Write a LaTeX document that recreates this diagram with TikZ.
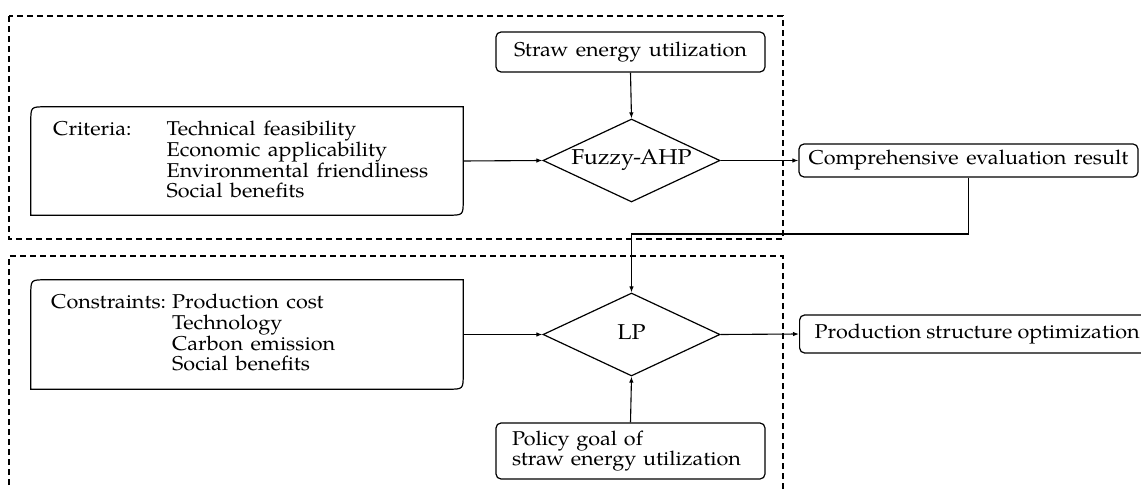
\documentclass[tikz,border=0pt]{standalone}
\usepackage{fontspec}
\setmainfont{TeX Gyre Pagella}[WordSpace=1.4,FakeStretch=1.08]
\usetikzlibrary{shapes.geometric,arrows.meta,calc}
\newcommand{\txtfont}{\fontsize{20}{20.3}\selectfont}
\newcommand{\bigtxtfont}{\fontsize{21.5}{24}\selectfont}
\newcommand{\tighttxtfont}{\fontsize{20}{20.3}\selectfont\spaceskip=5pt plus 1pt minus 1pt\relax}
\begin{document}
\begin{tikzpicture}[x=1pt,y=-1pt,
  every node/.style={font=\txtfont},
  rbox/.style={draw, rounded corners=5pt, line width=1.2pt, inner sep=0pt},
  dia/.style={draw, diamond, shape aspect=2.13, line width=1.2pt, inner sep=0pt, text height=11pt, text depth=2pt, minimum width=177pt, minimum height=83pt, font=\bigtxtfont},
  plain/.style={draw=none, inner sep=0pt, minimum width=432pt},
  outline/.style={line width=1.2pt},
  conn/.style={line width=1.1pt, -{Latex[length=6pt,width=4.5pt]}},
  dashframe/.style={dash pattern=on 6pt off 4pt, line width=1.2pt}]
\useasboundingbox (0,0) rectangle (1141,489);
\clip (0,0) rectangle (1141,489);
% frames
\draw[dashframe] (9,16) rectangle (783,239);
\draw[dashframe] (9,495) -- (9,256) -- (783,256) -- (783,495);
% nodes
\node[rbox, minimum width=269pt, minimum height=40pt] (straw) at (630.5,52) {Straw energy utilization};
\node[dia] (fahp) at (631.5,160.5) {Fuzzy-AHP};
\node[rbox, minimum width=339pt, minimum height=33pt] (comp) at (968.5,160.5) {Comprehensive evaluation result};
\node[dia] (lp) at (631.5,334.5) {LP};
\node[rbox, anchor=west, minimum height=38pt, inner xsep=15pt, font=\tighttxtfont] (prod) at (799,334) {Production structure optimization};
\node[rbox, minimum width=269pt, minimum height=56pt, inner xsep=16pt, text width=237pt, align=left] (policy) at (630.5,451) {Policy goal of\\straw energy utilization};
% criteria box
\node[plain, minimum height=108pt] (crit) at (247,161) {};
\draw[outline] ($(crit.north west)+(0,15)$) .. controls (crit.north west) .. ($(crit.north west)+(15,0)$) -- (crit.north east) -- ($(crit.south east)+(0,-15)$) .. controls (crit.south east) .. ($(crit.south east)+(-15,0)$) -- (crit.south west) -- cycle;
\node[anchor=west, inner sep=0pt] (crittxt) at (53,162.5) {\begin{tabular}{@{}l@{\hspace{35pt}}l@{}}Criteria: & Technical feasibility\\ & Economic applicability\\ & Environmental friendliness\\ & Social benefits\end{tabular}};
% constraints box
\node[plain, minimum height=109pt] (cons) at (247,334.5) {};
\draw[outline] ($(cons.north west)+(0,15)$) .. controls (cons.north west) .. ($(cons.north west)+(15,0)$) -- (cons.north east) -- ($(cons.south east)+(0,-15)$) .. controls (cons.south east) .. ($(cons.south east)+(-15,0)$) -- (cons.south west) -- cycle;
\node[anchor=west, inner sep=0pt] (constxt) at (51,335.5) {\begin{tabular}{@{}l@{\hspace{6pt}}l@{}}Constraints: & Production cost\\ & Technology\\ & Carbon emission\\ & Social benefits\end{tabular}};
% connectors
\coordinate (turn) at (631.5,234);
\draw[conn] (crit.east) -- (fahp.west);
\draw[conn] (straw.south) -- (fahp.north);
\draw[conn] (fahp.east) -- (comp.west);
\draw[conn] (comp.south) |- (turn) -- (lp.north);
\draw[conn] (cons.east) -- (lp.west);
\draw[conn] (lp.east) -- (prod.west);
\draw[conn] (policy.north) -- (lp.south);
\end{tikzpicture}
\end{document}
